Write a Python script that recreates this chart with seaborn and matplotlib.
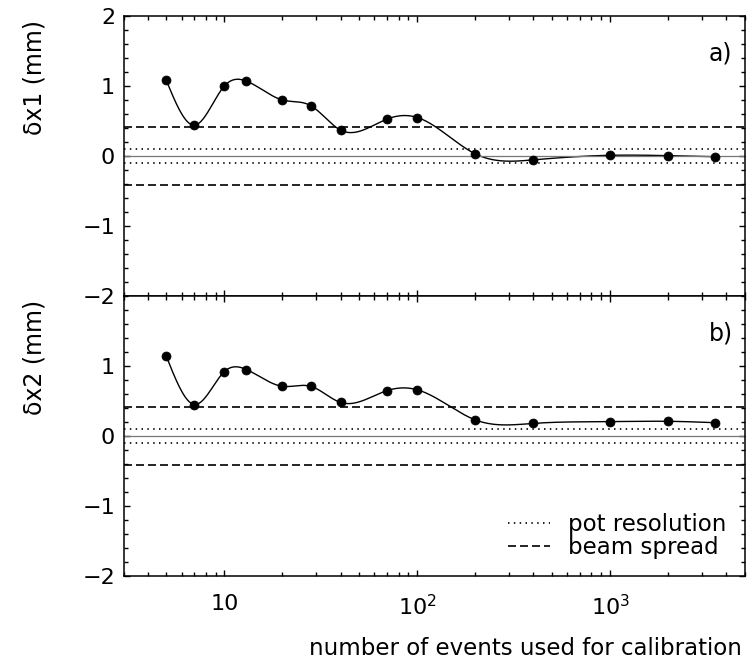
import numpy as np
import matplotlib
matplotlib.use("Agg")
import matplotlib.pyplot as plt
from matplotlib.ticker import LogLocator, FixedLocator, MultipleLocator, NullFormatter, FuncFormatter
import seaborn as sns

# number of events used for calibration
n_events = [5, 7, 10, 13, 20, 28, 40, 70, 100, 200, 400, 1000, 2000, 3500]
# panel a) dx1 (mm)
dx1 = [1.08, 0.44, 1.00, 1.07, 0.80, 0.72, 0.37, 0.53, 0.55, 0.03, -0.055, 0.01, 0.005, -0.01]
# panel b) dx2 (mm)
dx2 = [1.14, 0.45, 0.92, 0.95, 0.71, 0.71, 0.48, 0.65, 0.66, 0.23, 0.18, 0.205, 0.21, 0.19]

pot_res = 0.095
beam_spread = 0.42

ylabels = ["δx1 (mm)", "δx2 (mm)"]
tags = ["a)", "b)"]
decade_labels = {10: "10", 100: "$10^2$", 1000: "$10^3$"}


def natural_spline(xk, yk, xs):
    # smooth curve through the points, in log10(x)
    xk = np.asarray(xk, float)
    yk = np.asarray(yk, float)
    n = len(xk)
    h = np.diff(xk)
    A = np.zeros((n, n))
    r = np.zeros(n)
    A[0, 0] = A[-1, -1] = 1
    for i in range(1, n - 1):
        A[i, i - 1] = h[i - 1]
        A[i, i] = 2 * (h[i - 1] + h[i])
        A[i, i + 1] = h[i]
        r[i] = 3 * ((yk[i + 1] - yk[i]) / h[i] - (yk[i] - yk[i - 1]) / h[i - 1])
    c = np.linalg.solve(A, r)
    b = (yk[1:] - yk[:-1]) / h - h * (2 * c[:-1] + c[1:]) / 3
    d = (c[1:] - c[:-1]) / (3 * h)
    idx = np.clip(np.searchsorted(xk, xs) - 1, 0, n - 2)
    dx = xs - xk[idx]
    return yk[idx] + b[idx] * dx + c[idx] * dx ** 2 + d[idx] * dx ** 3


def ytick_fmt(v, p):
    return f"{v:.0f}".replace("-", "\u2212")


sns.set_theme(style="ticks")
plt.rcParams["font.family"] = ["DejaVu Sans"]
plt.rcParams["mathtext.fontset"] = "dejavusans"
plt.rcParams["text.color"] = "black"

fig, axes = plt.subplots(2, 1, figsize=(7.54, 6.59), dpi=100, sharex=True)
fig.subplots_adjust(left=123.5 / 754, right=745 / 754, top=1 - 16 / 659, bottom=1 - 576 / 659, hspace=0)

logx = np.log10(n_events)
xs = np.linspace(logx[0], logx[-1], 600)

dash = (4.8, 2.4)
dot = (0.9, 2.6)

for i, (ax, vals, lab, tag) in enumerate(zip(axes, [dx1, dx2], ylabels, tags)):
    curve = natural_spline(logx, vals, xs)
    sns.lineplot(x=10 ** xs, y=curve, ax=ax, color="black", lw=1.0, sort=False)
    sns.scatterplot(x=n_events, y=vals, ax=ax, color="black", s=42, edgecolor="black", zorder=5)

    ax.axhline(0, color="#777777", lw=0.9)
    hd = ax.axhline(beam_spread, color="black", lw=1.2, dashes=dash)
    ax.axhline(-beam_spread, color="black", lw=1.2, dashes=dash)
    hp = ax.axhline(pot_res, color="black", lw=1.2, dashes=dot)
    ax.axhline(-pot_res, color="black", lw=1.2, dashes=dot)

    ax.set_xscale("log")
    ax.set_xlim(3, 5000)
    ax.set_ylim(-2, 2)
    ax.yaxis.set_major_locator(FixedLocator([-2, -1, 0, 1, 2] if i == 0 else [-2, -1, 0, 1]))
    ax.yaxis.set_minor_locator(MultipleLocator(0.2))
    ax.xaxis.set_major_locator(FixedLocator([10, 100, 1000]))
    ax.xaxis.set_minor_locator(LogLocator(base=10, subs=np.arange(2, 10)))
    ax.xaxis.set_minor_formatter(NullFormatter())
    ax.xaxis.set_major_formatter(FuncFormatter(lambda v, p: decade_labels.get(int(round(v)), "")))
    ax.yaxis.set_major_formatter(FuncFormatter(ytick_fmt))
    ax.tick_params(which="both", direction="in", top=True, right=True, labelsize=16,
                   width=1, color="black", labelcolor="black")
    ax.tick_params(which="major", length=4.5)
    ax.tick_params(which="minor", length=2.7)
    ax.tick_params(axis="y", pad=6)
    ax.tick_params(axis="x", pad=13)
    for s in ax.spines.values():
        s.set_linewidth(1.1)
        s.set_color("black")

    ax.set_xlabel("")
    ax.set_ylabel("")
    ax.text((34.5 - 123.5) / 621.5, 0.78, lab, transform=ax.transAxes, rotation=90,
            ha="center", va="center", fontsize=17)
    ax.text(0.98, 0.865, tag, transform=ax.transAxes, ha="right", va="center", fontsize=17)

axes[1].legend([hp, hd], ["pot resolution", "beam spread"], loc="lower left",
               bbox_to_anchor=((508 - 123.5) / 621.5, 0.062), frameon=False, fontsize=16.5,
               handlelength=1.85, handletextpad=0.75, labelspacing=0.0, borderpad=0, borderaxespad=0)

fig.text(742 / 754, 1 - 655 / 659, "number of events used for calibration", ha="right", va="baseline", fontsize=16.5)

fig.savefig("out.png", dpi=100)
